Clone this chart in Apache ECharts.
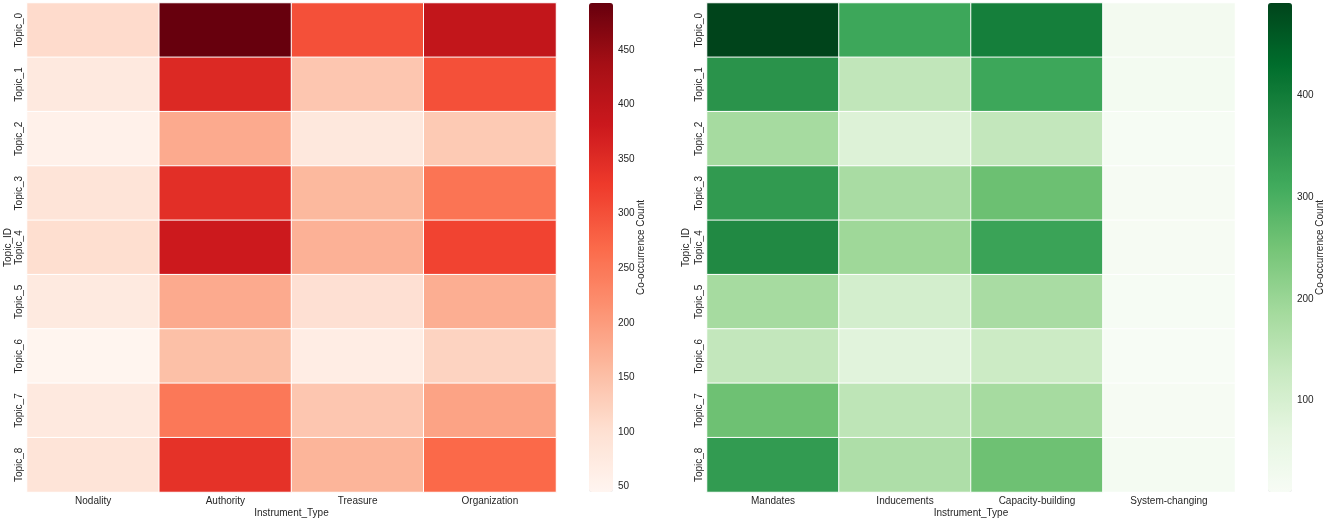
<!DOCTYPE html>
<html>
<head>
<meta charset="utf-8">
<script src="https://cdn.jsdelivr.net/npm/echarts@6/dist/echarts.min.js"></script>
<style>html,body{margin:0;padding:0;background:#fff}#c{width:1325px;height:520px}</style>
</head>
<body>
<div id="c"></div>
<script>
const topics = ['Topic_0','Topic_1','Topic_2','Topic_3','Topic_4','Topic_5','Topic_6','Topic_7','Topic_8'];
const policyTools = ['Nodality','Authority','Treasure','Organization'];
const instruments = ['Mandates','Inducements','Capacity-building','System-changing'];
// rows: topics, columns: policyTools
const policyCounts = [
  [108, 493, 300, 395],
  [76, 354, 140, 300],
  [56, 180, 80, 135],
  [90, 345, 160, 255],
  [103, 380, 170, 315],
  [75, 180, 100, 175],
  [46, 150, 67, 120],
  [77, 250, 140, 190],
  [90, 340, 165, 270]
];
// rows: topics, columns: instruments
const instrumentCounts = [
  [491, 318, 395, 25],
  [356, 140, 318, 22],
  [183, 87, 137, 14],
  [342, 178, 260, 15],
  [375, 193, 325, 15],
  [183, 106, 178, 12],
  [137, 78, 120, 10],
  [258, 145, 183, 15],
  [340, 170, 258, 20]
];
const redTicks = [50,100,150,200,250,300,350,400,450];
const greenTicks = [100,200,300,400];
const redRange = [45, 493];
const greenRange = [10, 491];

const reds = ['#fff5f0','#fee0d2','#fcbba1','#fc9272','#fb6a4a','#ef3b2c','#cb181d','#a50f15','#67000d'];
const greens = ['#f7fcf5','#e5f5e0','#c7e9c0','#a1d99b','#74c476','#41ab5d','#238b45','#006d2c','#00441b'];

function toCells(m){
  const out=[];
  m.forEach((row,y)=>row.forEach((v,x)=>out.push([x,y,v])));
  return out;
}
const txt = '#262626';
const font = 'Liberation Sans, Arial, sans-serif';
const gridBase = {containLabel:false, outerBoundsMode:'none'};
const grids = [
  Object.assign({left:27, top:3, width:529, height:489}, gridBase),
  Object.assign({left:707, top:3, width:528, height:489}, gridBase),
  Object.assign({left:589, top:3, width:24, height:489}, gridBase),
  Object.assign({left:1268, top:3, width:24, height:489}, gridBase)
];
function catX(idx, cats){
  return {type:'category', gridIndex:idx, data:cats, position:'bottom',
    axisLine:{show:false}, axisTick:{show:false}, splitLine:{show:false},
    axisLabel:{color:txt, fontSize:10, fontFamily:font, margin:4},
    name:'Instrument_Type', nameLocation:'middle', nameGap:16, nameMoveOverlap:false,
    nameTextStyle:{color:txt, fontSize:10, fontFamily:font}};
}
function catY(idx, gap){
  return {type:'category', gridIndex:idx, data:topics, inverse:true,
    axisLine:{show:false}, axisTick:{show:false}, splitLine:{show:false},
    axisLabel:{color:txt, fontSize:10, fontFamily:font, rotate:90, margin:3},
    name:'Topic_ID', nameLocation:'middle', nameGap:gap, nameRotate:90, nameMoveOverlap:false,
    nameTextStyle:{color:txt, fontSize:10, fontFamily:font}};
}
function barX(idx){
  return {type:'value', gridIndex:idx, show:false, min:0, max:1};
}
function barY(idx, range, ticks){
  return {type:'value', gridIndex:idx, position:'right', min:range[0], max:range[1],
    axisLine:{show:false}, splitLine:{show:false},
    axisTick:{show:true, length:3, lineStyle:{color:txt}, customValues:ticks},
    axisLabel:{color:txt, fontSize:10, fontFamily:font, margin:5, customValues:ticks},
    name:'Co-occurrence Count', nameLocation:'middle', nameGap:23, nameRotate:90, nameMoveOverlap:false,
    nameTextStyle:{color:txt, fontSize:10, fontFamily:font}};
}
const option = {
  backgroundColor:'#fff',
  animation:false,
  grid:grids,
  xAxis:[catX(0, policyTools), catX(1, instruments), barX(2), barX(3)],
  yAxis:[catY(0, 14), catY(1, 16), barY(2, redRange, redTicks), barY(3, greenRange, greenTicks)],
  visualMap:[
    {type:'continuous', seriesIndex:0, min:redRange[0], max:redRange[1], inRange:{color:reds},
     left:589, top:3, itemWidth:24, itemHeight:489, padding:0, calculable:false, text:null, show:true, hoverLink:false},
    {type:'continuous', seriesIndex:1, min:greenRange[0], max:greenRange[1], inRange:{color:greens},
     left:1268, top:3, itemWidth:24, itemHeight:489, padding:0, calculable:false, text:null, show:true, hoverLink:false}
  ],
  series:[
    {type:'heatmap', xAxisIndex:0, yAxisIndex:0, data:toCells(policyCounts),
     itemStyle:{borderColor:'#fff', borderWidth:1}, emphasis:{disabled:true}},
    {type:'heatmap', xAxisIndex:1, yAxisIndex:1, data:toCells(instrumentCounts),
     itemStyle:{borderColor:'#fff', borderWidth:1}, emphasis:{disabled:true}}
  ]
};
const chart = echarts.init(document.getElementById('c'), null, {renderer:'canvas'});
chart.setOption(option);
</script>
</body>
</html>
